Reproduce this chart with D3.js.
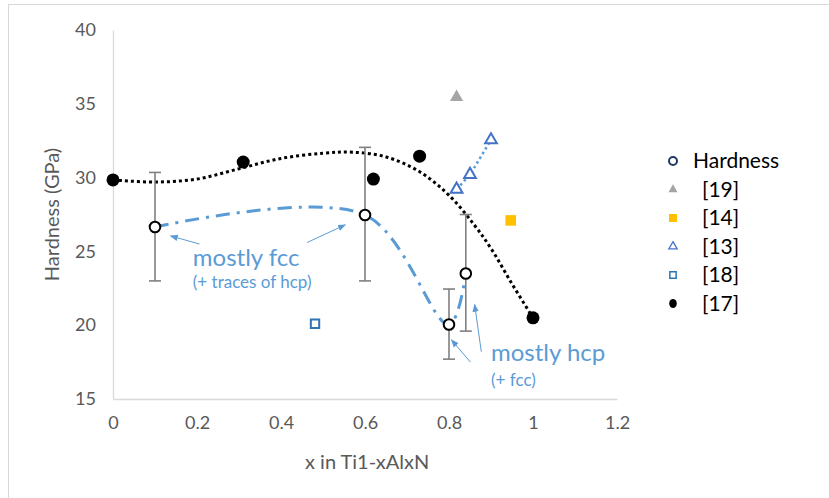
<!DOCTYPE html>
<html>
<head>
<meta charset="utf-8">
<script src="https://cdn.jsdelivr.net/npm/d3@7"></script>
<style>
  body { margin: 0; background: #fff; }
  text { font-family: Lato, "Open Sans", sans-serif; }
</style>
</head>
<body>
<script>
// hardness measured here (open circles + error bars)
const hardX = [0.1, 0.6, 0.8, 0.84];
const hardY = [26.65, 27.47, 20.05, 23.5];
const hardLo = [23.0, 23.0, 17.7, 19.6];
const hardHi = [30.35, 32.05, 22.45, 27.5];

// literature values
const ref19X = [0.818];
const ref19Y = [35.45];
const ref14X = [0.947];
const ref14Y = [27.1];
const ref13X = [0.818, 0.85, 0.9];
const ref13Y = [29.2, 30.2, 32.55];
const ref18X = [0.481];
const ref18Y = [20.1];
const ref17X = [0, 0.31, 0.62, 0.73, 1.0];
const ref17Y = [29.84, 31.05, 29.9, 31.45, 20.5];

// trend line of [17]
const trendX = [0, 0.1, 0.2, 0.3, 0.4, 0.5, 0.57, 0.65, 0.73, 0.8, 0.86, 0.9, 0.95, 1.0];
const trendY = [29.84, 29.7, 29.9, 30.6, 31.3, 31.65, 31.72, 31.4, 30.4, 28.8, 26.8, 25.2, 22.8, 20.5];

const xTicks = [0, 0.2, 0.4, 0.6, 0.8, 1, 1.2];
const yTicks = [15, 20, 25, 30, 35, 40];
const legendLabels = ["Hardness", "[19]", "[14]", "[13]", "[18]", "[17]"];

const blue = "#5b9bd5";

let svg = d3.select("body").append("svg")
  .attr("width", 829)
  .attr("height", 498);

// chart frame (only top/left visible in the crop)
svg.append("rect")
  .attr("x", 8.5).attr("y", 4.5)
  .attr("width", 900).attr("height", 600)
  .attr("fill", "none")
  .attr("stroke", "#d9d9d9");

let x = d3.scaleLinear().domain([0, 1.2]).range([113, 617]);
let y = d3.scaleLinear().domain([15, 40]).range([399, 30]);

let xAxis = d3.axisBottom(x).tickValues(xTicks).tickSize(0).tickPadding(17).tickFormat(d => d);
let yAxis = d3.axisLeft(y).tickValues(yTicks).tickSize(0).tickPadding(17);

let gx = svg.append("g").attr("transform", "translate(0,399)").call(xAxis);
let gy = svg.append("g").attr("transform", "translate(113,0)").call(yAxis);
[gx, gy].forEach(g => {
  g.select(".domain").attr("stroke", "#d9d9d9").attr("stroke-width", 1.3);
  g.selectAll("text").attr("fill", "#595959").style("font-size", "18px").style("font-family", "Lato");
});

svg.append("text")
  .attr("x", x(0.605)).attr("y", 469)
  .attr("text-anchor", "middle")
  .attr("fill", "#595959")
  .style("font-size", "20px")
  .text("x in Ti1-xAlxN");

svg.append("text")
  .attr("transform", "translate(59," + y(27.5) + ") rotate(-90)")
  .attr("text-anchor", "middle")
  .attr("fill", "#595959")
  .style("font-size", "20px")
  .text("Hardness (GPa)");

// black dotted trend line
let trend = trendX.map((d, i) => [d, trendY[i]]);
svg.append("path")
  .datum(trend)
  .attr("fill", "none")
  .attr("stroke", "#000")
  .attr("stroke-width", 3)
  .attr("stroke-dasharray", "3,3")
  .attr("d", d3.line().x(d => x(d[0])).y(d => y(d[1])).curve(d3.curveCatmullRom));

// blue dash-dot smoothed line through hardness
let hard = hardX.map((d, i) => [d, hardY[i]]);
svg.append("path")
  .datum(hard)
  .attr("fill", "none")
  .attr("stroke", blue)
  .attr("stroke-width", 3)
  .attr("stroke-dasharray", "14,7,3,7")
  .attr("d", d3.line().x(d => x(d[0])).y(d => y(d[1])).curve(d3.curveCatmullRom));

// dotted line through [13]
let r13 = ref13X.map((d, i) => [d, ref13Y[i]]);
svg.append("path")
  .datum(r13)
  .attr("fill", "none")
  .attr("stroke", blue)
  .attr("stroke-width", 2.5)
  .attr("stroke-dasharray", "2.5,3")
  .attr("d", d3.line().x(d => x(d[0])).y(d => y(d[1])));

// error bars
let eb = svg.append("g").attr("stroke", "#808080").attr("stroke-width", 1.6);
hardX.forEach((d, i) => {
  eb.append("line").attr("x1", x(d)).attr("x2", x(d)).attr("y1", y(hardLo[i])).attr("y2", y(hardHi[i]));
  eb.append("line").attr("x1", x(d) - 6).attr("x2", x(d) + 6).attr("y1", y(hardLo[i])).attr("y2", y(hardLo[i]));
  eb.append("line").attr("x1", x(d) - 6).attr("x2", x(d) + 6).attr("y1", y(hardHi[i])).attr("y2", y(hardHi[i]));
});

// markers
svg.selectAll(".hard").data(hard).enter().append("circle")
  .attr("cx", d => x(d[0])).attr("cy", d => y(d[1]))
  .attr("r", 5.3)
  .attr("fill", "#fff").attr("stroke", "#000").attr("stroke-width", 2);

svg.selectAll(".r17").data(ref17X).enter().append("circle")
  .attr("cx", d => x(d)).attr("cy", (d, i) => y(ref17Y[i]))
  .attr("r", 6.5)
  .attr("fill", "#000");

let tri = d3.symbol().type(d3.symbolTriangle);
let sq = d3.symbol().type(d3.symbolSquare);

svg.selectAll(".r19").data(ref19X).enter().append("path")
  .attr("transform", (d, i) => "translate(" + x(d) + "," + y(ref19Y[i]) + ")")
  .attr("d", tri.size(75)())
  .attr("fill", "#a5a5a5");

svg.selectAll(".r13").data(ref13X).enter().append("path")
  .attr("transform", (d, i) => "translate(" + x(d) + "," + y(ref13Y[i]) + ")")
  .attr("d", tri.size(60)())
  .attr("fill", "#fff").attr("stroke", "#4472c4").attr("stroke-width", 2);

svg.selectAll(".r14").data(ref14X).enter().append("path")
  .attr("transform", (d, i) => "translate(" + x(d) + "," + y(ref14Y[i]) + ")")
  .attr("d", sq.size(112)())
  .attr("fill", "#ffc000");

svg.selectAll(".r18").data(ref18X).enter().append("path")
  .attr("transform", (d, i) => "translate(" + x(d) + "," + y(ref18Y[i]) + ")")
  .attr("d", sq.size(70)())
  .attr("fill", "#fff").attr("stroke", "#2e75b6").attr("stroke-width", 2);

// annotations
svg.append("defs").append("marker")
  .attr("id", "ah")
  .attr("viewBox", "0 0 10 10")
  .attr("refX", 9).attr("refY", 5)
  .attr("markerWidth", 8).attr("markerHeight", 8)
  .attr("markerUnits", "userSpaceOnUse")
  .attr("orient", "auto")
  .append("path")
  .attr("d", "M0,1 L10,5 L0,9 z")
  .attr("fill", blue);

let arrows = [
  [[0.206, 25.5], [0.137, 26.05]],
  [[0.462, 25.6], [0.553, 26.8]],
  [[0.851, 17.5], [0.806, 19.0]],
  [[0.877, 18.2], [0.861, 21.4]]
];
arrows.forEach(a => {
  svg.append("line")
    .attr("x1", x(a[0][0])).attr("y1", y(a[0][1]))
    .attr("x2", x(a[1][0])).attr("y2", y(a[1][1]))
    .attr("stroke", blue).attr("stroke-width", 1)
    .attr("marker-end", "url(#ah)");
});

svg.append("text").attr("x", x(0.19)).attr("y", y(24.0))
  .attr("fill", blue).style("font-size", "24px").text("mostly fcc");
svg.append("text").attr("x", x(0.19)).attr("y", y(22.55))
  .attr("fill", blue).style("font-size", "17px").text("(+ traces of hcp)");
svg.append("text").attr("x", x(0.9)).attr("y", y(17.55))
  .attr("fill", blue).style("font-size", "24px").text("mostly hcp");
svg.append("text").attr("x", x(0.9)).attr("y", y(15.9))
  .attr("fill", blue).style("font-size", "17px").text("(+ fcc)");

// legend
let lg = svg.append("g").attr("transform", "translate(673,161)");
legendLabels.forEach((lab, i) => {
  let row = lg.append("g").attr("transform", "translate(0," + (i * 28.5) + ")");
  if (i == 0) row.append("circle").attr("r", 4).attr("fill", "#fff").attr("stroke", "#1f3864").attr("stroke-width", 2);
  if (i == 1) row.append("path").attr("d", tri.size(36)()).attr("fill", "#a5a5a5");
  if (i == 2) row.append("path").attr("d", sq.size(64)()).attr("fill", "#ffc000");
  if (i == 3) row.append("path").attr("d", tri.size(30)()).attr("fill", "#fff").attr("stroke", "#4472c4").attr("stroke-width", 1.3);
  if (i == 4) row.append("path").attr("d", sq.size(40)()).attr("fill", "#fff").attr("stroke", "#2e75b6").attr("stroke-width", 1.5);
  if (i == 5) row.append("ellipse").attr("rx", 3.8).attr("ry", 4.5).attr("fill", "#000");
  row.append("text")
    .attr("x", i == 0 ? 20 : 29).attr("y", 7)
    .attr("fill", "#000")
    .style("font-size", "21px")
    .text(lab);
});
</script>
</body>
</html>
